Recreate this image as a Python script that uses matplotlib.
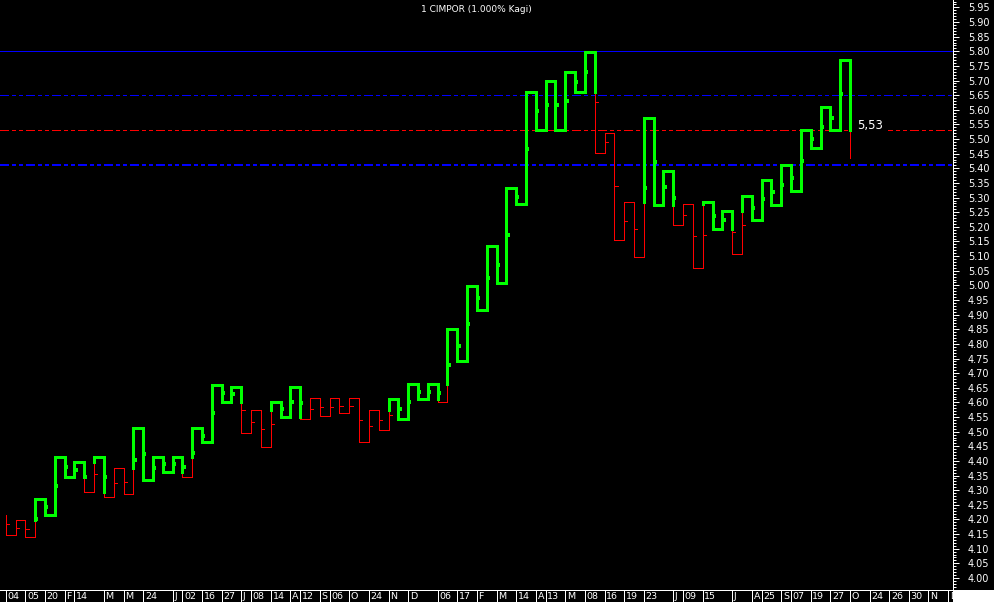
"""
Kagi chart of CIMPOR (1% reversal), black terminal style.
"""
import matplotlib
matplotlib.use('Agg')
import matplotlib.pyplot as plt
from matplotlib.collections import LineCollection
from matplotlib.patches import Rectangle
from matplotlib.ticker import MultipleLocator, FormatStrFormatter

# ── data ────────────────────────────────────────────────────────────────────
TITLE = "1 CIMPOR (1.000% Kagi)"

# turning points of the Kagi line (one vertical between each pair)
LEVELS = [4.215, 4.147, 4.197, 4.139, 4.269, 4.215, 4.414, 4.344, 4.395, 4.293,
          4.414, 4.277, 4.375, 4.286, 4.514, 4.335, 4.414, 4.362, 4.414, 4.345,
          4.514, 4.466, 4.661, 4.601, 4.654, 4.495, 4.573, 4.447, 4.602, 4.550,
          4.654, 4.542, 4.614, 4.553, 4.614, 4.564, 4.614, 4.465, 4.573, 4.505,
          4.613, 4.543, 4.662, 4.613, 4.662, 4.601, 4.852, 4.742, 4.998, 4.917,
          5.135, 5.009, 5.334, 5.277, 5.662, 5.531, 5.700, 5.531, 5.730, 5.661,
          5.797, 5.451, 5.522, 5.154, 5.284, 5.096, 5.573, 5.276, 5.392, 5.205,
          5.277, 5.058, 5.286, 5.194, 5.255, 5.106, 5.304, 5.223, 5.361, 5.276,
          5.411, 5.323, 5.531, 5.470, 5.611, 5.531, 5.771, 5.434]

# small marker on each vertical
MARKS = [4.183, 4.170, 4.167, 4.202, 4.243, 4.315, 4.380, 4.370, 4.345, 4.354,
         4.345, 4.324, 4.329, 4.402, 4.424, 4.375, 4.389, 4.389, 4.380, 4.426,
         4.486, 4.563, 4.632, 4.628, 4.573, 4.533, 4.508, 4.525, 4.578, 4.602,
         4.597, 4.578, 4.584, 4.584, 4.587, 4.587, 4.539, 4.518, 4.539, 4.556,
         4.578, 4.602, 4.637, 4.637, 4.633, 4.727, 4.794, 4.869, 4.958, 5.025,
         5.070, 5.172, 5.303, 5.467, 5.597, 5.618, 5.618, 5.631, 5.696, 5.729,
         5.626, 5.489, 5.339, 5.219, 5.192, 5.334, 5.423, 5.335, 5.300, 5.240,
         5.168, 5.171, 5.238, 5.224, 5.181, 5.206, 5.265, 5.296, 5.320, 5.344,
         5.368, 5.426, 5.501, 5.542, 5.573, 5.654]

XLAB_POS = [0, 2, 4, 6, 7, 10, 12, 14, 17, 18, 20, 22, 24, 25, 27, 29, 30, 32,
            33, 35, 37, 39, 41, 44, 46, 48, 50, 52, 54, 55, 57, 59, 61, 63, 65,
            68, 69, 71, 74, 76, 77, 79, 80, 82, 84, 86, 88, 90, 92, 94, 96]
XLAB_TXT = ["04", "05", "20", "F", "14", "M", "M", "24", "J", "02", "16", "27",
            "J", "08", "14", "A", "12", "S", "06", "O", "24", "N", "D", "06",
            "17", "F", "M", "14", "A", "13", "M", "08", "16", "19", "23", "J",
            "09", "15", "J", "A", "25", "S", "07", "19", "27", "O", "24", "26",
            "30", "N", "D"]

HLINE_SOLID = 5.80
HLINES_DASH = [5.65, 5.41]
LAST_LEVEL = 5.53
LAST_TEXT = "5,53"

# ── style ───────────────────────────────────────────────────────────────────
W, H = 994, 602
PT = 0.72                      # points per pixel at dpi 100
YANG = "#00FF00"
YIN = "#FF0000"
BLUE = "#0000FF"
PLOT_R, PLOT_B = 953, 590      # plot area in pixels
X0, STEP = 5.7, 9.817          # first vertical / spacing in pixels
Y580, PX_PER_UNIT = 51.3, 292.6
DASH = (0, (9 * PT, 3 * PT, 3 * PT, 3 * PT, 3 * PT, 3 * PT))

plt.rcParams['font.family'] = ['DejaVu Sans']
plt.rcParams['lines.scale_dashes'] = False


def kagi_segments(levels, marks):
    """Split the Kagi path into yang (thick) and yin (thin) pieces."""
    yang, yin = [], []
    mk_yang, mk_yin = [], []
    state = "yin"
    n = len(levels) - 1
    for i in range(n):
        a, b = levels[i], levels[i + 1]
        thr = levels[i - 1] if i >= 1 else None
        new = state
        if b > a and state == "yin" and thr is not None and b > thr:
            new = "yang"
        if b < a and state == "yang" and thr is not None and b < thr:
            new = "yin"
        if new != state:
            (yin if state == "yin" else yang).append([(i, a), (i, thr)])
            (yin if new == "yin" else yang).append([(i, thr), (i, b)])
        else:
            (yin if state == "yin" else yang).append([(i, a), (i, b)])
        if i < len(marks):
            m = marks[i]
            if new != state:
                col = "yang" if m > thr else "yin"
            else:
                col = state
            (mk_yang if col == "yang" else mk_yin).append([(i, m), (i + 0.33, m)])
        state = new
        if i + 1 < n:
            (yin if state == "yin" else yang).append([(i, b), (i + 1, b)])
    return yang, yin, mk_yang, mk_yin


fig = plt.figure(figsize=(W / 100, H / 100), dpi=100)
fig.patch.set_facecolor("black")

ax = fig.add_axes([0, (H - PLOT_B) / H, PLOT_R / W, PLOT_B / H])
ax.set_facecolor("black")
ax.set_xlim(-X0 / STEP, (PLOT_R - X0) / STEP)
ax.set_ylim(5.80 - (PLOT_B - Y580) / PX_PER_UNIT, 5.80 + Y580 / PX_PER_UNIT)

# reference lines
ax.axhline(HLINE_SOLID, color=BLUE, lw=1 * PT, zorder=1, antialiased=False)
ax.axhline(HLINES_DASH[0], color=BLUE, lw=1 * PT, linestyle=DASH, zorder=1,
           antialiased=False)
ax.axhline(HLINES_DASH[1], color=BLUE, lw=2 * PT, linestyle=DASH, zorder=1,
           antialiased=False)
ax.axhline(LAST_LEVEL, color=YIN, lw=1 * PT, linestyle=DASH, zorder=1,
           antialiased=False)

yang, yin, mk_yang, mk_yin = kagi_segments(LEVELS, MARKS)
ax.add_collection(LineCollection(yin, colors=YIN, linewidths=1 * PT,
                                 capstyle="projecting", antialiaseds=False,
                                 zorder=3))
ax.add_collection(LineCollection(yang, colors=YANG, linewidths=3 * PT,
                                 capstyle="projecting", antialiaseds=False,
                                 zorder=4))
ax.add_collection(LineCollection(mk_yin, colors=YIN, linewidths=1 * PT,
                                 capstyle="butt", antialiaseds=False, zorder=3))
ax.add_collection(LineCollection(mk_yang, colors=YANG, linewidths=2.5 * PT,
                                 capstyle="butt", antialiaseds=False, zorder=4))

# last value label
ax.text((870 - X0) / STEP, LAST_LEVEL + 0.015, LAST_TEXT, color="white",
        fontsize=8.5, ha="center", va="center", zorder=2,
        bbox=dict(boxstyle="square,pad=0.45", fc="black", ec="none"))

# right price axis
for s in ("top", "left", "bottom"):
    ax.spines[s].set_visible(False)
ax.spines["right"].set_color("white")
ax.spines["right"].set_linewidth(1 * PT)
ax.set_xticks([])
ax.yaxis.tick_right()
ax.yaxis.set_major_locator(MultipleLocator(0.05))
ax.yaxis.set_minor_locator(MultipleLocator(0.01))
ax.yaxis.set_major_formatter(FormatStrFormatter("%.2f"))
ax.tick_params(axis="y", which="major", length=6 * PT, width=1 * PT,
               colors="white", direction="out", pad=9 * PT, labelsize=7)
ax.tick_params(axis="y", which="minor", length=3 * PT, width=1 * PT,
               colors="white", direction="out")

# date strip
sx = fig.add_axes([0, 0, PLOT_R / W, (H - PLOT_B) / H])
sx.set_facecolor("black")
sx.set_xlim(ax.get_xlim())
sx.set_ylim(0, 1)
sx.set_xticks([])
sx.set_yticks([])
for s in ("left", "right", "bottom"):
    sx.spines[s].set_visible(False)
sx.spines["top"].set_color("white")
sx.spines["top"].set_linewidth(1 * PT)
sx.vlines(XLAB_POS, 0, 1, color="white", lw=1 * PT, antialiased=False)
for p, t in zip(XLAB_POS, XLAB_TXT):
    sx.text(p + 0.17, 0.42, t, color="white", fontsize=6.8,
            ha="left", va="center", clip_on=True)

fig.patches.append(Rectangle((PLOT_R / W, 0), 1 - PLOT_R / W, (H - PLOT_B) / H,
                             transform=fig.transFigure, fc="white", ec="none"))

fig.text(476 / W, 1 - 9 / H, TITLE, color="white", fontsize=6.5,
         ha="center", va="center")

fig.savefig("out.png", dpi=100, facecolor=fig.get_facecolor())
